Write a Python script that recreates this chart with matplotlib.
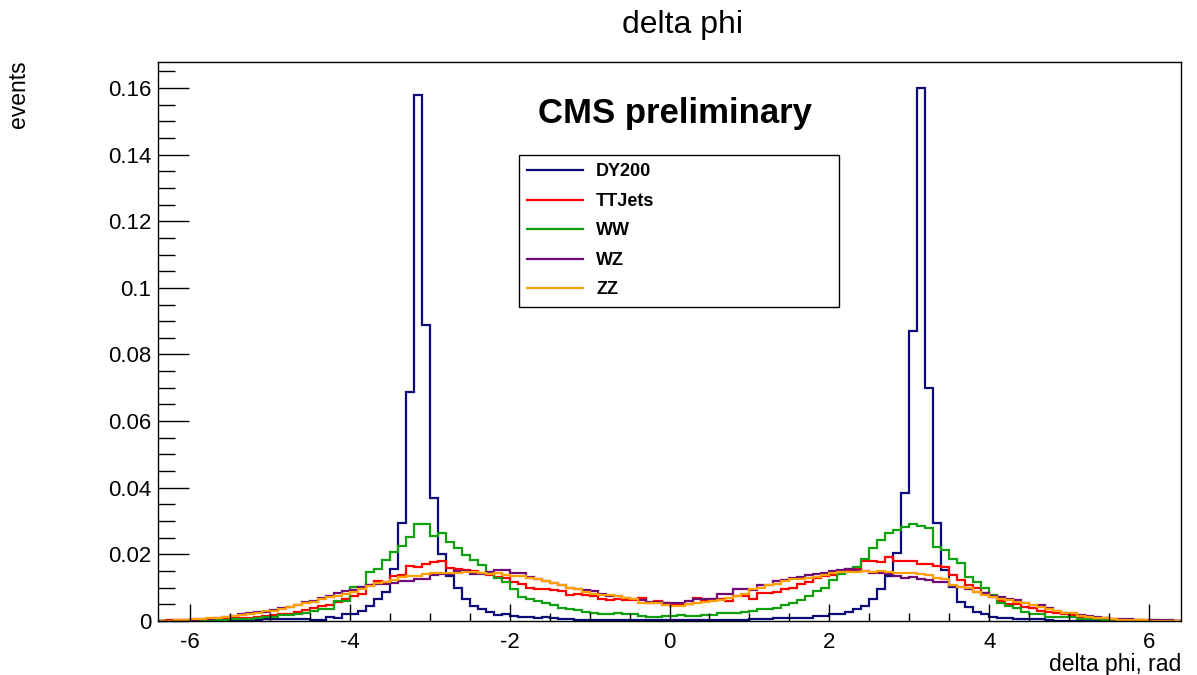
import numpy as np
import matplotlib
matplotlib.use("Agg")
import matplotlib.pyplot as plt
from matplotlib.ticker import MultipleLocator, FuncFormatter

# histogram binning: 128 bins of 0.1 rad
x_lo, x_hi, n_bins = -6.4, 6.4, 128

dy200 = [
    0.0000, 0.0000, 0.0001, 0.0001, 0.0001, 0.0001, 0.0002, 0.0002, 0.0002, 0.0003,
    0.0003, 0.0004, 0.0004, 0.0005, 0.0005, 0.0005, 0.0006, 0.0007, 0.0006, 0.0004,
    0.0004, 0.0013, 0.0010, 0.0020, 0.0021, 0.0030, 0.0045, 0.0065, 0.0088, 0.0157,
    0.0295, 0.0688, 0.1580, 0.0890, 0.0370, 0.0202, 0.0135, 0.0100, 0.0065, 0.0045,
    0.0035, 0.0027, 0.0017, 0.0020, 0.0015, 0.0013, 0.0013, 0.0010, 0.0012, 0.0010,
    0.0007, 0.0007, 0.0004, 0.0003, 0.0003, 0.0002, 0.0002, 0.0002, 0.0002, 0.0002,
    0.0002, 0.0002, 0.0002, 0.0002, 0.0002, 0.0002, 0.0002, 0.0002, 0.0002, 0.0002,
    0.0002, 0.0002, 0.0003, 0.0003, 0.0005, 0.0007, 0.0005, 0.0008, 0.0010, 0.0010,
    0.0010, 0.0010, 0.0015, 0.0015, 0.0020, 0.0020, 0.0027, 0.0035, 0.0045, 0.0065,
    0.0097, 0.0135, 0.0205, 0.0384, 0.0870, 0.1600, 0.0699, 0.0295, 0.0153, 0.0103,
    0.0058, 0.0041, 0.0028, 0.0021, 0.0013, 0.0010, 0.0010, 0.0005, 0.0005, 0.0005,
    0.0005, 0.0002, 0.0001, 0.0001, 0.0001, 0.0001, 0.0001, 0.0001, 0.0001, 0.0001,
    0.0001, 0.0000, 0.0000, 0.0000, 0.0000, 0.0000, 0.0000, 0.0000,
]

ttjets = [
    0.0001, 0.0003, 0.0002, 0.0003, 0.0003, 0.0004, 0.0005, 0.0005, 0.0007, 0.0008,
    0.0009, 0.0010, 0.0013, 0.0015, 0.0017, 0.0020, 0.0022, 0.0027, 0.0032, 0.0040,
    0.0045, 0.0047, 0.0057, 0.0065, 0.0075, 0.0080, 0.0107, 0.0120, 0.0118, 0.0136,
    0.0138, 0.0166, 0.0162, 0.0172, 0.0176, 0.0181, 0.0160, 0.0156, 0.0154, 0.0150,
    0.0144, 0.0137, 0.0131, 0.0128, 0.0118, 0.0110, 0.0100, 0.0096, 0.0096, 0.0093,
    0.0090, 0.0078, 0.0080, 0.0078, 0.0076, 0.0065, 0.0064, 0.0067, 0.0062, 0.0064,
    0.0070, 0.0055, 0.0060, 0.0054, 0.0049, 0.0050, 0.0050, 0.0068, 0.0060, 0.0065,
    0.0065, 0.0060, 0.0075, 0.0076, 0.0065, 0.0083, 0.0084, 0.0087, 0.0095, 0.0100,
    0.0110, 0.0118, 0.0128, 0.0134, 0.0137, 0.0145, 0.0150, 0.0155, 0.0180, 0.0180,
    0.0178, 0.0193, 0.0181, 0.0181, 0.0180, 0.0170, 0.0170, 0.0166, 0.0163, 0.0138,
    0.0123, 0.0108, 0.0100, 0.0085, 0.0073, 0.0060, 0.0052, 0.0050, 0.0042, 0.0038,
    0.0031, 0.0028, 0.0023, 0.0022, 0.0018, 0.0013, 0.0013, 0.0010, 0.0008, 0.0005,
    0.0004, 0.0003, 0.0003, 0.0002, 0.0002, 0.0001, 0.0001, 0.0000,
]

ww = [
    0.0000, 0.0000, 0.0001, 0.0001, 0.0002, 0.0002, 0.0003, 0.0003, 0.0004, 0.0005,
    0.0006, 0.0007, 0.0010, 0.0012, 0.0013, 0.0018, 0.0019, 0.0020, 0.0023, 0.0030,
    0.0036, 0.0036, 0.0060, 0.0060, 0.0103, 0.0103, 0.0146, 0.0157, 0.0182, 0.0208,
    0.0226, 0.0252, 0.0290, 0.0292, 0.0255, 0.0265, 0.0238, 0.0218, 0.0198, 0.0184,
    0.0167, 0.0147, 0.0128, 0.0117, 0.0095, 0.0072, 0.0065, 0.0060, 0.0055, 0.0047,
    0.0040, 0.0035, 0.0034, 0.0027, 0.0025, 0.0021, 0.0020, 0.0023, 0.0020, 0.0020,
    0.0014, 0.0013, 0.0013, 0.0015, 0.0016, 0.0017, 0.0016, 0.0015, 0.0018, 0.0018,
    0.0023, 0.0024, 0.0025, 0.0026, 0.0030, 0.0035, 0.0035, 0.0040, 0.0047, 0.0055,
    0.0062, 0.0075, 0.0089, 0.0100, 0.0122, 0.0140, 0.0155, 0.0163, 0.0185, 0.0220,
    0.0243, 0.0265, 0.0273, 0.0283, 0.0290, 0.0286, 0.0280, 0.0222, 0.0212, 0.0185,
    0.0173, 0.0133, 0.0116, 0.0098, 0.0078, 0.0055, 0.0045, 0.0038, 0.0028, 0.0021,
    0.0021, 0.0013, 0.0013, 0.0013, 0.0012, 0.0005, 0.0005, 0.0005, 0.0004, 0.0002,
    0.0002, 0.0002, 0.0002, 0.0001, 0.0001, 0.0001, 0.0000, 0.0000,
]

wz = [
    0.0001, 0.0001, 0.0002, 0.0002, 0.0003, 0.0005, 0.0005, 0.0009, 0.0012, 0.0015,
    0.0022, 0.0025, 0.0027, 0.0028, 0.0032, 0.0039, 0.0043, 0.0048, 0.0058, 0.0060,
    0.0068, 0.0076, 0.0083, 0.0089, 0.0094, 0.0102, 0.0108, 0.0110, 0.0110, 0.0113,
    0.0120, 0.0120, 0.0125, 0.0126, 0.0138, 0.0140, 0.0140, 0.0150, 0.0150, 0.0141,
    0.0141, 0.0146, 0.0153, 0.0152, 0.0145, 0.0143, 0.0133, 0.0127, 0.0121, 0.0115,
    0.0107, 0.0100, 0.0095, 0.0094, 0.0090, 0.0080, 0.0075, 0.0074, 0.0070, 0.0067,
    0.0063, 0.0058, 0.0057, 0.0053, 0.0053, 0.0053, 0.0060, 0.0065, 0.0067, 0.0067,
    0.0080, 0.0080, 0.0097, 0.0096, 0.0093, 0.0107, 0.0107, 0.0119, 0.0124, 0.0128,
    0.0133, 0.0139, 0.0140, 0.0143, 0.0149, 0.0153, 0.0155, 0.0152, 0.0149, 0.0145,
    0.0143, 0.0142, 0.0135, 0.0130, 0.0132, 0.0125, 0.0123, 0.0117, 0.0118, 0.0105,
    0.0101, 0.0095, 0.0088, 0.0083, 0.0074, 0.0071, 0.0065, 0.0063, 0.0055, 0.0048,
    0.0048, 0.0038, 0.0029, 0.0025, 0.0023, 0.0018, 0.0015, 0.0013, 0.0008, 0.0005,
    0.0005, 0.0005, 0.0003, 0.0003, 0.0002, 0.0002, 0.0003, 0.0001,
]

zz = [
    0.0000, 0.0001, 0.0003, 0.0003, 0.0006, 0.0007, 0.0010, 0.0010, 0.0013, 0.0015,
    0.0017, 0.0020, 0.0024, 0.0029, 0.0031, 0.0037, 0.0043, 0.0047, 0.0053, 0.0057,
    0.0065, 0.0071, 0.0075, 0.0080, 0.0087, 0.0095, 0.0106, 0.0114, 0.0116, 0.0122,
    0.0131, 0.0135, 0.0135, 0.0140, 0.0143, 0.0143, 0.0143, 0.0145, 0.0147, 0.0147,
    0.0143, 0.0140, 0.0143, 0.0137, 0.0135, 0.0134, 0.0130, 0.0127, 0.0120, 0.0115,
    0.0107, 0.0100, 0.0095, 0.0087, 0.0080, 0.0077, 0.0077, 0.0075, 0.0070, 0.0065,
    0.0055, 0.0053, 0.0053, 0.0047, 0.0046, 0.0044, 0.0050, 0.0053, 0.0057, 0.0060,
    0.0063, 0.0070, 0.0075, 0.0080, 0.0095, 0.0100, 0.0107, 0.0110, 0.0120, 0.0125,
    0.0127, 0.0130, 0.0133, 0.0137, 0.0145, 0.0147, 0.0147, 0.0147, 0.0150, 0.0147,
    0.0150, 0.0147, 0.0145, 0.0143, 0.0143, 0.0140, 0.0137, 0.0130, 0.0126, 0.0108,
    0.0103, 0.0098, 0.0088, 0.0078, 0.0073, 0.0065, 0.0063, 0.0058, 0.0053, 0.0048,
    0.0041, 0.0035, 0.0031, 0.0025, 0.0023, 0.0015, 0.0011, 0.0008, 0.0008, 0.0005,
    0.0003, 0.0003, 0.0003, 0.0003, 0.0001, 0.0001, 0.0001, 0.0000,
]

samples = ["DY200", "TTJets", "WW", "WZ", "ZZ"]
colors = ["#0c0c78", "#ff0000", "#10a010", "#6e0a78", "#ffa000"]


def main():
    plt.rcParams["font.family"] = ["Liberation Sans", "DejaVu Sans"]
    plt.rcParams["axes.unicode_minus"] = False

    fig = plt.figure(figsize=(11.97, 6.75), dpi=100)
    ax = fig.add_axes([158 / 1197, 54 / 675, 1023 / 1197, 559 / 675])

    edges = np.linspace(x_lo, x_hi, n_bins + 1)
    for name, vals, c in zip(samples, [dy200, ttjets, ww, wz, zz], colors):
        ax.stairs(vals, edges, color=c, lw=1.6, label=name)

    ax.set_xlim(x_lo, x_hi)
    ax.set_ylim(0, 0.1678)

    # ROOT-like axes: inward ticks on bottom/left only
    ax.xaxis.set_major_locator(MultipleLocator(2))
    ax.xaxis.set_minor_locator(MultipleLocator(0.5))
    ax.yaxis.set_major_locator(MultipleLocator(0.02))
    ax.yaxis.set_minor_locator(MultipleLocator(0.005))
    ax.yaxis.set_major_formatter(FuncFormatter(lambda v, p: "%g" % round(v, 3)))
    ax.xaxis.set_major_formatter(FuncFormatter(lambda v, p: "%g" % v))
    ax.tick_params(axis="x", which="major", direction="in", length=12, width=1, pad=8, labelsize=16)
    ax.tick_params(axis="x", which="minor", direction="in", length=6, width=1)
    ax.tick_params(axis="y", which="major", direction="in", length=22.5, width=1, pad=5, labelsize=16)
    ax.tick_params(axis="y", which="minor", direction="in", length=12, width=1)
    for s in ax.spines.values():
        s.set_linewidth(1)

    ax.set_xlabel("delta phi, rad", fontsize=16.5, ha="right", va="top")
    ax.xaxis.set_label_coords(1.0, -0.058)
    fig.text(18 / 1197, 1 - 60 / 675, "events", rotation=90, fontsize=16.5,
             ha="center", va="top")

    fig.text(683 / 1197, 1 - 25 / 675, "delta phi", fontsize=23, ha="center", va="center")
    fig.text(675 / 1197, 1 - 113 / 675, "CMS preliminary", fontsize=25,
             fontweight="bold", ha="center", va="center")

    leg = ax.legend(loc="upper left", mode="expand",
                    bbox_to_anchor=(519 / 1197, 1 - 304 / 675, 320 / 1197, 149 / 675),
                    bbox_transform=fig.transFigure, borderaxespad=0,
                    fancybox=False, framealpha=1, edgecolor="black",
                    prop={"weight": "bold", "size": 13},
                    handlelength=3.05, handletextpad=0.75, labelspacing=0.69, borderpad=0.47)
    leg.get_frame().set_linewidth(1)
    for line in leg.get_lines():
        line.set_linewidth(1.6)

    fig.savefig("out.png", dpi=100)


if __name__ == "__main__":
    main()
